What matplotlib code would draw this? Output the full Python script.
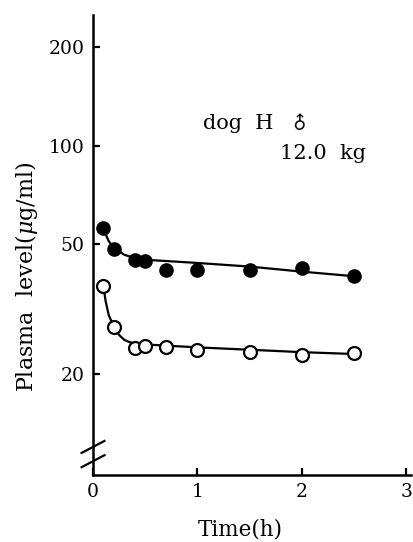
import numpy as np
import matplotlib
matplotlib.use("Agg")
import matplotlib.pyplot as plt

plt.rcParams['font.family'] = ['DejaVu Serif']
plt.rcParams['mathtext.fontset'] = 'dejavuserif'

# measured points (dog H, 12.0 kg)
time_h = [0.1, 0.2, 0.4, 0.5, 0.7, 1.0, 1.5, 2.0, 2.5]
filled_vals = [55.8, 48.3, 44.5, 44.4, 41.6, 41.5, 41.6, 42.1, 40.0]
open_vals = [37.1, 27.8, 24.0, 24.4, 24.2, 23.7, 23.4, 22.9, 23.1]

# fitted curves
fit_t_filled = [0.1, 0.15, 0.2, 0.3, 0.4, 0.5, 0.7, 1.0, 1.5, 2.0, 2.5]
fit_filled = [55.5, 51.0, 48.5, 46.3, 45.2, 44.7, 44.3, 43.7, 42.6, 41.1, 39.8]
fit_t_open = [0.1, 0.12, 0.15, 0.2, 0.25, 0.3, 0.35, 0.4, 0.5, 1.0, 1.5, 2.0, 2.5]
fit_open = [37.1, 33.5, 30.3, 27.8, 26.3, 25.4, 25.0, 24.8, 24.6, 24.1, 23.7, 23.3, 23.0]

yticks = [20, 50, 100, 200]
xticks = [0, 1, 2, 3]

fig = plt.figure(figsize=(4.13, 5.42), dpi=100)
ax = fig.add_axes([0.2252, 0.1236, 0.769, 0.8487])

ax.plot(fit_t_filled, fit_filled, color='black', lw=1.6, zorder=2)
ax.plot(fit_t_open, fit_open, color='black', lw=1.6, zorder=2)
ax.plot(time_h, filled_vals, 'o', ms=9.5, mfc='black', mec='black', zorder=3)
ax.plot(time_h, open_vals, 'o', ms=9.3, mfc='white', mec='black', mew=1.6, zorder=3)

ax.set_yscale('log')
ax.set_ylim(9.8, 251)
ax.set_xlim(0, 3.04)
ax.set_yticks(yticks)
ax.set_yticklabels([str(v) for v in yticks])
ax.yaxis.set_minor_locator(matplotlib.ticker.NullLocator())
ax.set_xticks(xticks)
ax.set_xticklabels([str(v) for v in xticks])

for s in ['top', 'right']:
    ax.spines[s].set_visible(False)
for s in ['left', 'bottom']:
    ax.spines[s].set_linewidth(1.8)
ax.tick_params(direction='in', length=5, width=1.6, labelsize=13.5, pad=6)

ax.set_xlabel('Time(h)', fontsize=15.5)
ax.xaxis.set_label_coords(0.463, -0.094)
ax.set_ylabel('Plasma  level($\\mu$g/ml)', fontsize=16)
ax.yaxis.set_label_coords(-0.166, 0.43)

# axis break marks
kw = dict(transform=ax.transAxes, color='black', lw=1.6, clip_on=False)
for yc in [0.061, 0.030]:
    ax.plot([-0.036, 0.036], [yc - 0.013, yc + 0.013], **kw)

ax.text(0.345, 0.765, 'dog  H', transform=ax.transAxes, fontsize=15, va='center')
ax.text(0.615, 0.765, '\u2642', transform=ax.transAxes, fontsize=13, va='center',
        family='DejaVu Sans', rotation=45)
ax.text(0.59, 0.7, '12.0  kg', transform=ax.transAxes, fontsize=15, va='center')

fig.savefig('out.png', dpi=100)
